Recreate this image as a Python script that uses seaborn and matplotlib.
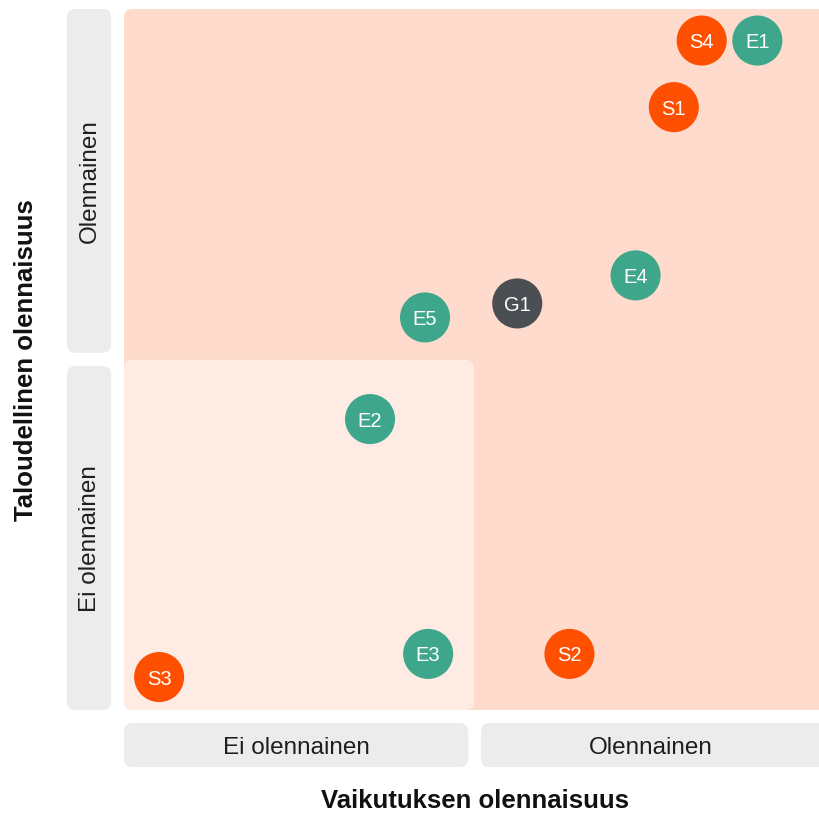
import matplotlib
matplotlib.use("Agg")
import matplotlib.pyplot as plt
from matplotlib.patches import FancyBboxPatch
import seaborn as sns
import pandas as pd

# ---- data ----
labels = ["S4", "E1", "S1", "E4", "G1", "E5", "E2", "E3", "S2", "S3"]
impact = [1.66, 1.82, 1.58, 1.47, 1.13, 0.865, 0.707, 0.874, 1.28, 0.101]
financial = [1.91, 1.91, 1.72, 1.24, 1.16, 1.12, 0.83, 0.16, 0.16, 0.094]
groups = ["S", "E", "S", "E", "G", "E", "E", "E", "S", "S"]
x_ticks = ["Ei olennainen", "Olennainen"]
y_ticks = ["Ei olennainen", "Olennainen"]
x_title = "Vaikutuksen olennaisuus"
y_title = "Taloudellinen olennaisuus"

palette = {"S": "#fe5000", "E": "#3ea68b", "G": "#4b4e53"}

sns.set_theme(style="white")
plt.rcParams["font.family"] = ["Liberation Sans", "DejaVu Sans"]

W, H = 820, 813
fig = plt.figure(figsize=(W / 100, H / 100), dpi=100)
x0, x1, y0, y1 = 124, 820, 9, 710
ax = fig.add_axes([x0 / W, (H - y1) / H, (x1 - x0) / W, (y1 - y0) / H])
ax.set_xlim(0, 2)
ax.set_ylim(0, 2)
ax.axis("off")

def rbox(ax, xa, ya, xb, yb, color, r=0.024, z=0):
    p = FancyBboxPatch((xa + r, ya + r), (xb - xa) - 2 * r, (yb - ya) - 2 * r,
                       boxstyle=f"round,pad={r}", fc=color, ec="none",
                       zorder=z, clip_on=False, mutation_aspect=1)
    ax.add_patch(p)

# backgrounds
rbox(ax, 0, 0, 2.1, 2.0, "#fedbcc", z=0)
rbox(ax, 0, 0, 1.006, 0.999, "#feece4", z=1)

# side label boxes
gray = "#ececec"
rbox(ax, -0.164, 1.019, -0.037, 2.0, gray)
rbox(ax, -0.164, 0.0, -0.037, 0.981, gray)
rbox(ax, 0.0, -0.163, 0.989, -0.037, gray)
rbox(ax, 1.026, -0.163, 2.1, -0.037, gray)

tick_fs = 17.5
tc = "#1e1e1e"
ax.text((0 + 0.989) / 2, -0.1, x_ticks[0], ha="center", va="center_baseline", fontsize=tick_fs, color=tc)
ax.text((1.026 + 2.0) / 2, -0.1, x_ticks[1], ha="center", va="center_baseline", fontsize=tick_fs, color=tc)
ax.text(-0.097, 0.4905, y_ticks[0], ha="center", va="center", rotation=90, fontsize=tick_fs, color=tc)
ax.text(-0.097, 1.5095, y_ticks[1], ha="center", va="center", rotation=90, fontsize=tick_fs, color=tc)

# points
df = pd.DataFrame({"label": labels, "impact": impact, "financial": financial, "group": groups})
sns.scatterplot(data=df, x="impact", y="financial", hue="group", palette=palette,
                s=1300, linewidth=0, legend=False, ax=ax, zorder=5, clip_on=False)
ax.set_xlim(0, 2)
ax.set_ylim(0, 2)
ax.axis("off")
for _, r in df.iterrows():
    ax.text(r["impact"], r["financial"], r["label"], ha="center", va="center_baseline",
            color="white", fontsize=14.5, zorder=6)

fig.text(475 / W, 1 - 801 / H, x_title, ha="center", va="center", fontsize=18.5, fontweight="bold", color="#111111")
fig.text(26 / W, 1 - 360 / H, y_title, ha="center", va="center", rotation=90, fontsize=18.5, fontweight="bold", color="#111111")

fig.savefig("out.png", dpi=100, facecolor="white")
